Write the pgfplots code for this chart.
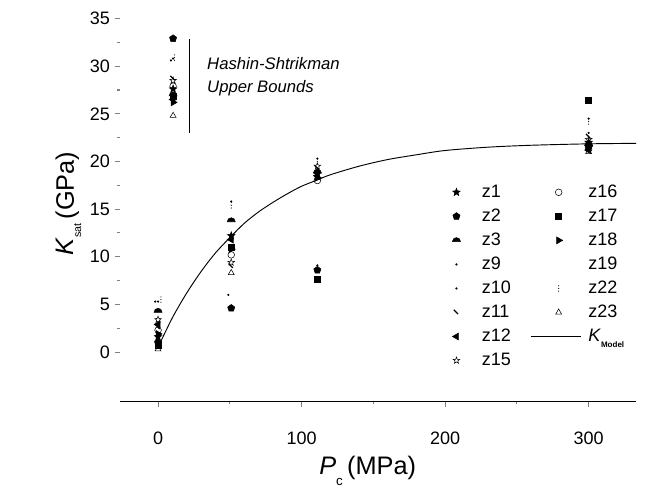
\documentclass[border=0pt]{standalone}
\usepackage{pgfplots}
\pgfplotsset{compat=1.18}
\usepackage{fontspec}
\setmainfont{Liberation Sans}
\usetikzlibrary{plotmarks}
\pgfdeclareplotmark{fstar}{%
  \pgfpathmoveto{\pgfpointpolar{90}{\pgfplotmarksize}}%
  \pgfpathlineto{\pgfpointpolar{126}{0.42\pgfplotmarksize}}%
  \pgfpathlineto{\pgfpointpolar{162}{\pgfplotmarksize}}%
  \pgfpathlineto{\pgfpointpolar{198}{0.42\pgfplotmarksize}}%
  \pgfpathlineto{\pgfpointpolar{234}{\pgfplotmarksize}}%
  \pgfpathlineto{\pgfpointpolar{270}{0.42\pgfplotmarksize}}%
  \pgfpathlineto{\pgfpointpolar{306}{\pgfplotmarksize}}%
  \pgfpathlineto{\pgfpointpolar{342}{0.42\pgfplotmarksize}}%
  \pgfpathlineto{\pgfpointpolar{18}{\pgfplotmarksize}}%
  \pgfpathlineto{\pgfpointpolar{54}{0.42\pgfplotmarksize}}%
  \pgfpathclose\pgfusepathqfillstroke}
\pgfdeclareplotmark{ostar}{%
  \pgfpathmoveto{\pgfpointpolar{90}{\pgfplotmarksize}}%
  \pgfpathlineto{\pgfpointpolar{126}{0.42\pgfplotmarksize}}%
  \pgfpathlineto{\pgfpointpolar{162}{\pgfplotmarksize}}%
  \pgfpathlineto{\pgfpointpolar{198}{0.42\pgfplotmarksize}}%
  \pgfpathlineto{\pgfpointpolar{234}{\pgfplotmarksize}}%
  \pgfpathlineto{\pgfpointpolar{270}{0.42\pgfplotmarksize}}%
  \pgfpathlineto{\pgfpointpolar{306}{\pgfplotmarksize}}%
  \pgfpathlineto{\pgfpointpolar{342}{0.42\pgfplotmarksize}}%
  \pgfpathlineto{\pgfpointpolar{18}{\pgfplotmarksize}}%
  \pgfpathlineto{\pgfpointpolar{54}{0.42\pgfplotmarksize}}%
  \pgfpathclose\pgfusepathqstroke}
\pgfdeclareplotmark{halfdisc}{%
  \pgfpathmoveto{\pgfqpoint{\pgfplotmarksize}{-0.3\pgfplotmarksize}}%
  \pgfpatharc{0}{180}{\pgfplotmarksize}%
  \pgfpathclose\pgfusepathqfillstroke}
\pgfdeclareplotmark{vdots}{%
  \pgfpathcircle{\pgfqpoint{0pt}{\pgfplotmarksize}}{0.45pt}%
  \pgfpathcircle{\pgfqpoint{0pt}{0pt}}{0.45pt}%
  \pgfpathcircle{\pgfqpoint{0pt}{-\pgfplotmarksize}}{0.45pt}%
  \pgfusepathqfill}
\pgfdeclareplotmark{slash}{%
  \pgfpathmoveto{\pgfqpoint{-\pgfplotmarksize}{\pgfplotmarksize}}%
  \pgfpathlineto{\pgfqpoint{0.6\pgfplotmarksize}{-0.6\pgfplotmarksize}}%
  \pgfsetlinewidth{0.9pt}\pgfusepathqstroke}
\begin{document}
\begin{tikzpicture}
\begin{axis}[
  scale only axis,
  width=387pt, height=287.3pt,
  xmin=-26.5, xmax=333, ymin=-5.2, ymax=35,
  axis x line*=bottom, axis y line*=left,
  y axis line style={draw=none},
  x axis line style={line width=0.8pt},
  xtick={0,100,200,300}, minor x tick num=1,
  ytick={0,5,...,35}, minor y tick num=1,
  tick align=outside,
  major tick length=4pt, minor tick length=2pt,
  x tick style={line width=0.8pt},
  y tick style={line width=0.8pt},
  tick label style={font=\fontsize{13.5}{14}\selectfont},
  /pgf/number format/assume math mode=true,
  xticklabel style={yshift=-15pt},
  clip=false,
  every axis y label/.style={at={(rel axis cs:-0.10,0.517)}, rotate=90, anchor=center},
  every axis x label/.style={at={(rel axis cs:0.48,-0.18)}, anchor=center},
  ylabel={\fontsize{19}{20}\selectfont\textit{K}\raisebox{-0.55ex}{\fontsize{8}{8}\selectfont sat}\,(GPa)},
  xlabel={\fontsize{19}{20}\selectfont\textit{P}\raisebox{-0.8ex}{\fontsize{10}{10}\selectfont c}\,(MPa)},
  legend columns=2,
  legend style={draw=none, fill=none, at={(rel axis cs:0.636,0.58)}, anchor=north west,
    font=\fontsize{13.5}{14}\selectfont, row sep=3.1pt,
    /tikz/column 1/.style={column sep=14pt},
    /tikz/column 2/.style={column sep=12.5pt},
    /tikz/column 3/.style={column sep=3pt}},
  legend cell align=left,
  mark size=2.4pt,
]
% z1
\addplot[only marks, mark=fstar, mark size=3pt] coordinates {(0,1.6) (51,12.2) (111,18.7) (300,22.0) (10.5,27.6)};
\addlegendentry{z1}
% z16
\addplot[only marks, mark=o, mark size=2.5pt] coordinates {(0,2.3) (51,10.2) (111,18.0) (300,21.3) (10.5,27.9)};
\addlegendentry{z16}
% z2
\addplot[only marks, mark=pentagon*, mark size=2.8pt] coordinates {(0,1.0) (51,4.6) (111,8.6) (300,21.5) (10.5,32.9)};
\addlegendentry{z2}
% z17
\addplot[only marks, mark=square*, mark size=2.2pt] coordinates {(0,0.7) (51,11.0) (111,7.6) (300,26.4) (10.5,26.8)};
\addlegendentry{z17}
% z3
\addplot[only marks, mark=halfdisc, mark size=3pt] coordinates {(0,4.3) (51,13.8) (111,18.9) (300,21.8) (10.5,27.0)};
\addlegendentry{z3}
% z18
\addplot[only marks, mark=triangle*, mark size=3pt, mark options={rotate=-90}] coordinates {(0,1.9) (51,10.8) (111,18.3) (300,21.6) (10.5,26.2)};
\addlegendentry{z18}
% z9
\addplot[only marks, mark=*, mark size=0.6pt] coordinates {(0,5.3) (51,15.8) (111,20.3) (300,24.5) (10.5,30.8)};
\addlegendentry{z9}
% z19
\addlegendimage{empty legend}
\addlegendentry{z19}
% z10
\addplot[only marks, mark=*, mark size=0.6pt] coordinates {(-2,5.3) (49,6.0) (111,9.1) (300,23.0) (9,30.6)};
\addlegendentry{z10}
% z22
\addplot[only marks, mark=vdots, mark size=2pt] coordinates {(2,5.5) (51,15.4) (111,20.0) (300,24.2) (11.5,30.9)};
\addlegendentry{z22}
% z11
\addplot[only marks, mark=slash, mark size=2pt] coordinates {(0,2.6) (51,9.0) (111,19.3) (300,22.6) (10.5,28.7)};
\addlegendentry{z11}
% z23
\addplot[only marks, mark=triangle, mark size=2.6pt] coordinates {(0,0.3) (51,8.3) (111,18.3) (300,21.0) (10.5,24.8)};
\addlegendentry{z23}
% z12
\addplot[only marks, mark=triangle*, mark size=3pt, mark options={rotate=90}] coordinates {(0,2.9) (51,11.8) (111,18.5) (300,21.2) (10.5,26.5)};
\addlegendentry{z12}
% K model
\addplot[black, line width=0.7pt, no marks, smooth,
  legend image code/.code={\draw[black, line width=0.7pt] (-12.5pt,0pt) -- (25.5pt,0pt);}] coordinates {
 (0,0.5) (10,3.6) (20,6.2) (30,8.45) (40,10.4) (50,12.0) (60,13.5) (70,14.7) (80,15.7) (90,16.6) (100,17.4) (110,18.0) (120,18.6) (140,19.5) (160,20.2) (180,20.7) (200,21.15) (230,21.5) (260,21.7) (300,21.85) (333,21.9)};
\addlegendentry{\textit{K}\raisebox{-0.6ex}{\fontsize{6}{6}\selectfont\bfseries Model}}
% z15
\addplot[only marks, mark=ostar, mark size=2.6pt] coordinates {(0,3.4) (51,9.4) (111,19.5) (300,22.3) (10.5,28.5)};
\addlegendentry{z15}
% HS bound bar
\addplot[black, line width=0.8pt, forget plot] coordinates {(21.6,23) (21.6,32.8)};
\node[anchor=west, font=\fontsize{12.5}{13}\selectfont\itshape] at (axis cs:31,30.3) {Hashin-Shtrikman};
\node[anchor=west, font=\fontsize{12.5}{13}\selectfont\itshape] at (axis cs:31,27.7) {Upper Bounds};
\end{axis}
\pgfresetboundingbox
\path ([shift={(-90pt,-64.1pt)}]current axis.south west) rectangle ([shift={(9.75pt,13.9pt)}]current axis.north east);
\end{tikzpicture}
\end{document}
